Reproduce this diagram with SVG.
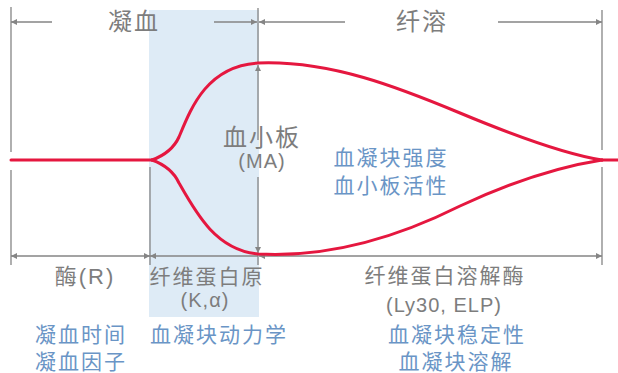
<svg xmlns="http://www.w3.org/2000/svg" width="618" height="373" viewBox="0 0 618 373">
<style>
.g{stroke:#858585;stroke-width:1.3;fill:none}
.r{stroke:#e5173f;stroke-width:3;fill:none;stroke-linecap:round}
text{font-family:"Liberation Sans","Noto Sans CJK SC",sans-serif;text-anchor:middle}
.tg{fill:#7d7d7d;font-size:21px;letter-spacing:2px}
.tt{fill:#7d7d7d;font-size:24px;letter-spacing:2px}
.tl{fill:#7d7d7d;font-size:20px;letter-spacing:1px}
.tb{fill:#6a95c6;font-size:21px;letter-spacing:2px}
</style>
<defs>
<marker id="ah" viewBox="0 0 10 10" refX="10" refY="5" markerWidth="9" markerHeight="6" markerUnits="userSpaceOnUse" orient="auto-start-reverse"><path d="M0,0 L10,5 L0,10 z" fill="#858585"/></marker>
</defs>
<rect id="shade" x="149" y="10" width="110" height="307" fill="#deebf6"/>
<g id="connectors">
<line class="g" x1="11" y1="7" x2="11" y2="152"/>
<line class="g" x1="11" y1="170" x2="11" y2="265"/>
<line class="g" x1="150" y1="167" x2="150" y2="265"/>
<line class="g" x1="258" y1="8" x2="258" y2="64"/>
<line class="g" x1="258" y1="140" x2="258" y2="65" marker-end="url(#ah)"/>
<line class="g" x1="258" y1="177" x2="258" y2="253" marker-end="url(#ah)"/>
<line class="g" x1="258" y1="253" x2="258" y2="265"/>
<line class="g" x1="602" y1="10" x2="602" y2="150"/>
<line class="g" x1="602" y1="167" x2="602" y2="265"/>
<line class="g" x1="11" y1="22" x2="52" y2="22" marker-start="url(#ah)"/>
<line class="g" x1="214" y1="22" x2="257" y2="22" marker-end="url(#ah)"/>
<line class="g" x1="259" y1="22" x2="345" y2="22" marker-start="url(#ah)"/>
<line class="g" x1="498" y1="22" x2="602" y2="22" marker-end="url(#ah)"/>
<line class="g" x1="11" y1="256" x2="150" y2="256" marker-start="url(#ah)" marker-end="url(#ah)"/>
<line class="g" x1="150" y1="256" x2="258" y2="256" marker-start="url(#ah)"/>
<line class="g" x1="259" y1="256" x2="602" y2="256" marker-start="url(#ah)" marker-end="url(#ah)"/>
</g>
<g id="curve">
<path class="r" d="M11,160 H152"/>
<path class="r" d="M602,160 H618"/>
<path class="r" d="M152,160 C163,156 173,150 179,137 C191,108 207,66 258,63 C330,60 400,88 460,113 C520,138 570,155 602,160"/>
<path class="r" d="M152,160 C163,164 173,170 179,183 C196,213 216,250 258,254 C330,258 400,236 460,206 C520,178 570,165 602,160"/>
</g>
<g id="phase-coag"><text class="tt" x="134" y="30">凝血</text></g>
<g id="phase-fib"><text class="tt" x="422" y="30">纤溶</text></g>
<g id="platelet">
<text class="tt" x="262" y="146">血小板</text>
<text class="tl" x="262" y="168">(MA)</text>
</g>
<g id="strength">
<text class="tb" x="391" y="165">血凝块强度</text>
<text class="tb" x="391" y="193">血小板活性</text>
</g>
<g id="enzyme">
<text class="tg" x="85" y="284" style="font-size:22px">酶(R)</text>
<text class="tb" x="81" y="342">凝血时间</text>
<text class="tb" x="81" y="369">凝血因子</text>
</g>
<g id="fibrinogen">
<text class="tg" x="207" y="284">纤维蛋白原</text>
<text class="tl" x="205" y="307">(K,α)</text>
<text class="tb" x="219" y="342">血凝块动力学</text>
</g>
<g id="fibrinolysin">
<text class="tg" x="445" y="283">纤维蛋白溶解酶</text>
<text class="tl" x="444" y="312">(Ly30, ELP)</text>
<text class="tb" x="457" y="342">血凝块稳定性</text>
<text class="tb" x="456" y="369">血凝块溶解</text>
</g>
</svg>
